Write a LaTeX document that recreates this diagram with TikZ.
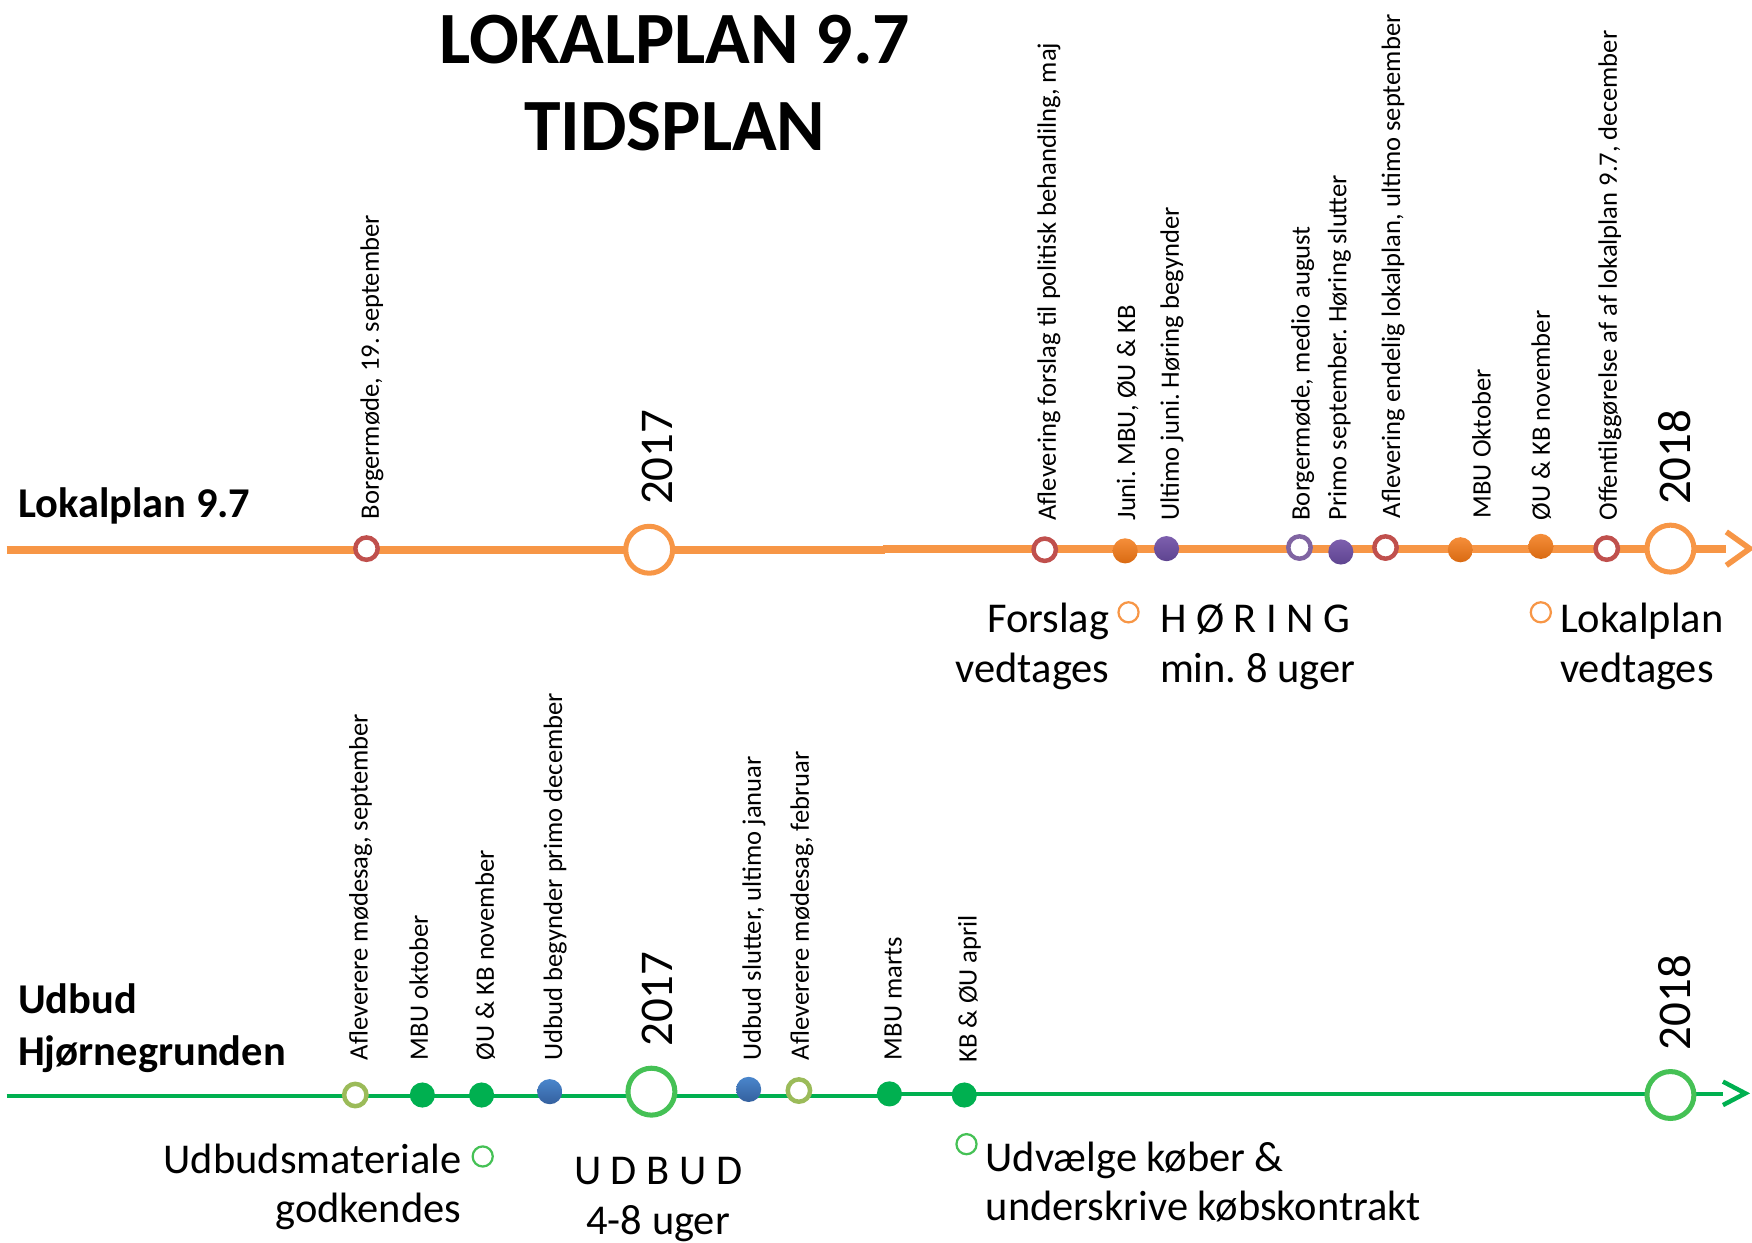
\documentclass[tikz,border=0pt]{standalone}
\usepackage{fontspec}
\setmainfont{Carlito}
\frenchspacing
\definecolor{lineor}{HTML}{F79646}
\definecolor{ringred}{HTML}{C0504D}
\definecolor{dotorT}{HTML}{F58E3A}
\definecolor{dotorB}{HTML}{D96A12}
\definecolor{dotpurT}{HTML}{7D5FAE}
\definecolor{dotpurB}{HTML}{5E4490}
\definecolor{ringpur}{HTML}{8064A2}
\definecolor{linegr}{HTML}{00B050}
\definecolor{ringol}{HTML}{9BBB59}
\definecolor{dotblT}{HTML}{4A86CC}
\definecolor{dotblB}{HTML}{34609E}
\definecolor{biggr}{HTML}{45C155}
\begin{document}
\begin{tikzpicture}[x=1pt,y=-1pt,
  ring/.style={circle,draw=#1,fill=white,line width=4pt,minimum size=20pt,inner sep=0pt},
  sdot/.style={circle,top color=#1T,bottom color=#1B,draw=none,minimum size=22.5pt,inner sep=0pt},
  gdot/.style={circle,fill=linegr,draw=none,minimum size=22.5pt,inner sep=0pt},
  bigring/.style={circle,draw=#1,fill=white,line width=4.5pt,minimum size=42pt,inner sep=0pt},
  smallring/.style={circle,draw=#1,fill=white,line width=2pt,minimum size=18pt,inner sep=0pt},
  vlabel/.style={rotate=90,anchor=base west,inner sep=0pt,font=\fontsize{23.8}{28}\selectfont},
  year/.style={rotate=90,anchor=base west,inner sep=0pt,font=\fontsize{42}{50}\selectfont},
  big/.style={inner sep=0pt,font=\fontsize{38}{44.4}\selectfont},
  heading/.style={inner sep=0pt,anchor=base west,font=\bfseries\fontsize{38}{47}\selectfont},
  titletext/.style={inner sep=0pt,anchor=base,font=\bfseries\fontsize{66}{79}\selectfont},
  orline/.style={draw=lineor,line width=7pt},
  grline/.style={draw=linegr,line width=4pt},
]
\useasboundingbox (0,0) rectangle (1568,1112);

% title
\node[titletext] (title1) at (604,57) {LOKALPLAN 9.7};
\node[titletext] (title2) at (604,135) {TIDSPLAN};

% ---------- top timeline ----------
\coordinate (ts) at (6,492.5);
\coordinate (tm1) at (792,492.5);
\coordinate (tm2) at (790,491);
\coordinate (tend) at (1545,491);
\coordinate (ttip) at (1566,491);
\coordinate (tarmA) at (1545,476);
\coordinate (tarmB) at (1545,506);
\draw[orline] (ts) -- (tm1);
\draw[orline] (tm2) -- (tend);
\draw[draw=lineor,line width=5pt] (tarmA) -- (ttip) -- (tarmB);

\node[heading] (hl) at (16,463) {Lokalplan 9.7};

\node[ring=ringred] (t1) at (328,491) {};
\node[bigring=lineor] (t2017) at (581,492) {};
\node[ring=ringred] (t3) at (935,492) {};
\node[sdot=dotor] (t4) at (1007,493) {};
\node[sdot=dotpur] (t5) at (1044,491) {};
\node[ring=ringpur] (t6) at (1163,490) {};
\node[sdot=dotpur] (t7) at (1200,494) {};
\node[ring=ringred] (t8) at (1240,490) {};
\node[sdot=dotor] (t9) at (1307,492) {};
\node[sdot=dotor] (t10) at (1379,489) {};
\node[ring=ringred] (t11) at (1438,491) {};
\node[bigring=lineor] (t2018) at (1495,491) {};

\node[vlabel] (lt1) at (339,465) {Borgermøde, 19. september};
\node[year] (yt1) at (602,452) {2017};
\node[vlabel] (lt3) at (945,466) {Aflevering forslag til politisk behandilng, maj};
\node[vlabel] (lt4) at (1016,466) {Juni. MBU, ØU \& KB};
\node[vlabel] (lt5) at (1055,466) {Ultimo juni. Høring begynder};
\node[vlabel] (lt6) at (1172,466) {Borgermøde, medio august};
\node[vlabel] (lt7) at (1205,466) {Primo september. Høring slutter};
\node[vlabel] (lt8) at (1253,464) {Aflevering endelig lokalplan, ultimo september};
\node[vlabel] (lt9) at (1334,464) {MBU Oktober};
\node[vlabel] (lt10) at (1387,466) {ØU \& KB november};
\node[vlabel] (lt11) at (1447,466) {Offentilggørelse af af lokalplan 9.7, december};
\node[year] (yt2) at (1513,452) {2018};

\node[smallring=lineor] (sr1) at (1010,548) {};
\node[smallring=lineor] (sr2) at (1379,548) {};
\node[big,anchor=base east,align=right] (bt1) at (993,610.4) {Forslag\\vedtages};
\node[big,anchor=base west,align=left] (bt2) at (1038,610.4) {H Ø R I N G\\min. 8 uger};
\node[big,anchor=base west,align=left] (bt3) at (1396,610.4) {Lokalplan\\vedtages};

% ---------- bottom timeline ----------
\coordinate (bs) at (6,981);
\coordinate (bm1) at (792,981);
\coordinate (bm2) at (790,979);
\coordinate (bend) at (1542,979);
\coordinate (btip) at (1562,978.5);
\coordinate (barmA) at (1542,968);
\coordinate (barmB) at (1542,989);
\draw[grline] (bs) -- (bm1);
\draw[grline] (bm2) -- (bend);
\draw[draw=linegr,line width=4pt] (barmA) -- (btip) -- (barmB);

\node[heading,align=left] (hb) at (16,954) {Udbud\\Hjørnegrunden};

\node[ring=ringol] (b1) at (318,980) {};
\node[gdot] (b2) at (378,980) {};
\node[gdot] (b3) at (431,980) {};
\node[sdot=dotbl] (b4) at (492,977) {};
\node[bigring=biggr] (b2017) at (583,977) {};
\node[sdot=dotbl] (b6) at (670,975) {};
\node[ring=ringol] (b7) at (715,976) {};
\node[gdot] (b8) at (796,979) {};
\node[gdot] (b9) at (863,980) {};
\node[bigring=biggr] (b2018) at (1495,980) {};

\node[vlabel] (lb1) at (329,949) {Afleverere mødesag, september};
\node[vlabel] (lb2) at (383,949) {MBU oktober};
\node[vlabel] (lb3) at (442,949) {ØU \& KB november};
\node[vlabel] (lb4) at (503,949) {Udbud begynder primo december};
\node[year] (yb1) at (602,937) {2017};
\node[vlabel] (lb6) at (681,949) {Udbud slutter, ultimo januar};
\node[vlabel] (lb7) at (724,949) {Afleverere mødesag, februar};
\node[vlabel] (lb8) at (807,949) {MBU marts};
\node[vlabel] (lb9) at (874,951) {KB \& ØU april};
\node[year] (yb2) at (1513,940) {2018};

\node[smallring=biggr] (sr3) at (432,1035) {};
\node[smallring=biggr] (sr4) at (865,1024) {};
\node[big,anchor=base east,align=right] (bb1) at (413,1094.4) {Udbudsmateriale\\godkendes};
\node[big,anchor=base,align=center] (bb2) at (589,1104.4) {U D B U D\\4-8 uger};
\node[big,anchor=base west,align=left] (bb3) at (882,1092.4) {Udvælge køber \&\\underskrive købskontrakt};
\end{tikzpicture}
\end{document}
